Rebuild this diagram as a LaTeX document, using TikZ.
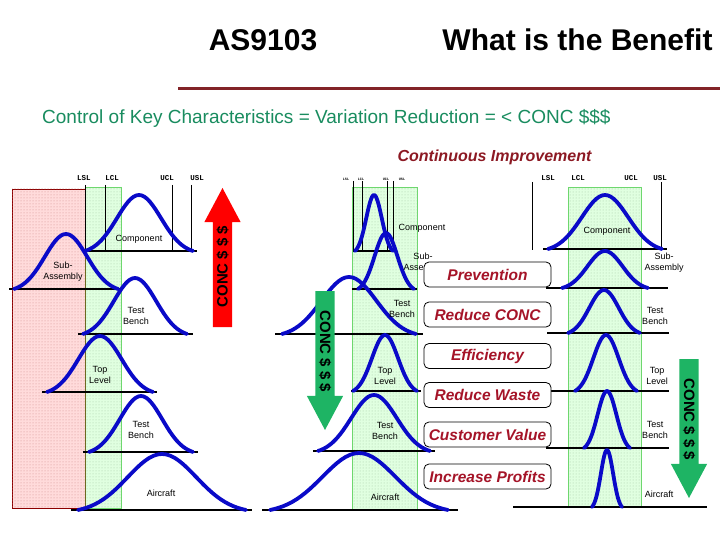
\documentclass[tikz,border=0pt]{standalone}
\usepackage{fontspec}
\setmainfont{Liberation Sans}
\newfontfamily\limfont{Liberation Mono}
\usetikzlibrary{shapes.arrows, patterns, positioning}
\definecolor{ruleRed}{RGB}{130,35,40}
\definecolor{ciRed}{RGB}{140,25,35}
\definecolor{subGreen}{RGB}{25,140,95}
\definecolor{benefitRed}{RGB}{165,20,40}
\definecolor{bandGreen}{RGB}{110,215,110}
\definecolor{arrowGreen}{RGB}{30,180,100}
\definecolor{bellBlue}{RGB}{10,10,200}

\newcommand{\bellcurve}[4]{\draw[bell] plot[domain=-1:1, samples=41] ({#1+#3*\x}, {#2-#4*(exp(-3*\x*\x)-0.0498)/0.9502});}

\begin{document}
\begin{tikzpicture}[
    x=1pt, y=-1pt,
    bell/.style={draw=bellBlue, line width=3.8pt, line join=round, line cap=round},
    baseln/.style={draw=black, line width=2.2pt},
    limit/.style={draw=black, line width=0.8pt},
    limlabel/.style={font=\limfont\bfseries\fontsize{7.5}{8}\selectfont, inner sep=0pt},
    tinylabel/.style={font=\limfont\bfseries\fontsize{3.5}{4}\selectfont, inner sep=0pt},
    level/.style={font=\fontsize{9}{11}\selectfont, align=center, inner sep=0pt},
    benefit/.style={draw=black, fill=white, rounded corners=5pt, line width=0.8pt, minimum width=127pt, minimum height=25pt, inner sep=0pt, text=benefitRed, font=\bfseries\itshape\fontsize{15.5}{18}\selectfont},
    greenband/.style={draw=bandGreen, line width=1pt, fill=green!12, postaction={pattern=dots, pattern color=green!40!black!35}},
    redband/.style={draw=red!55!black, line width=0.8pt, fill=red!14, postaction={pattern=dots, pattern color=red!60!black!45}},
    concarrow/.style={single arrow, single arrow head extend=8.5pt, single arrow tip angle=56, minimum height=139pt, inner xsep=2pt, inner ysep=3.5pt, text height=11pt, text depth=1pt, font=\bfseries\fontsize{15}{18}\selectfont, draw=none, outer sep=0pt}
]
    \useasboundingbox (0,0) rectangle (720,540);

    % heading
    \node[font=\bfseries\fontsize{30}{34}\selectfont] (standard) at (263,40) {AS9103};
    \node[font=\bfseries\fontsize{30}{34}\selectfont] (question) at (577.5,40) {What is the Benefit};
    \draw[ruleRed, line width=3pt] (178,89) -- (720,89);
    \node[anchor=west, inner sep=0pt, text=subGreen, font=\fontsize{19}{22}\selectfont] (goal) at (42,118) {Control of Key Characteristics = Variation Reduction = < CONC \$\$\$};
    \node[text=ciRed, font=\bfseries\itshape\fontsize{16}{19}\selectfont] (improve) at (494.5,157) {Continuous Improvement};

    % bands
    \draw[redband] (12,189) rectangle (85,508);
    \draw[greenband] (85,188) rectangle (121,508);
    \draw[olive!70!black, line width=1pt] (85,189) -- (85,508);
    \draw[greenband] (352,188) rectangle (417,510);
    \draw[greenband] (568,188) rectangle (641,506);

    % left: wide spread
    \foreach \lx in {85,105,172,191} \draw[limit] (\lx,185) -- (\lx,251);
    \node[limlabel] (lsl1) at (84,178) {LSL};
    \node[limlabel] (lcl1) at (112,178) {LCL};
    \node[limlabel] (ucl1) at (167,178) {UCL};
    \node[limlabel] (usl1) at (197,178) {USL};
    \draw[baseln] (85,251) -- (197,251);
    \draw[baseln] (9,289) -- (120,289);
    \draw[baseln] (78,334) -- (193,334);
    \draw[baseln] (42,392) -- (157,392);
    \draw[baseln] (83,452) -- (198,452);
    \draw[baseln] (71,510) -- (252,510);
    \bellcurve{139}{251}{54}{56}
    \bellcurve{66}{289}{52}{55}
    \bellcurve{135}{334}{52}{56}
    \bellcurve{100}{392}{53}{56}
    \bellcurve{141}{452}{52}{56}
    \bellcurve{162}{510}{84}{56}
    \node[level] (comp1) at (139,239) {Component};
    \node[level] (sub1) at (63,272) {Sub-\\Assembly};
    \node[level] (bench1) at (136,316) {Test\\Bench};
    \node[level] (top1) at (100,375) {Top\\Level};
    \node[level] (benchb1) at (141,430) {Test\\Bench};
    \node[level] (air1) at (161,493) {Aircraft};

    % middle: drifting spread
    \foreach \lx in {353,362,387,393} \draw[limit] (\lx,181) -- (\lx,251);
    \node[tinylabel] (lsl2) at (346,179) {LSL};
    \node[tinylabel] (lcl2) at (361,179) {LCL};
    \node[tinylabel] (ucl2) at (386,179) {UCL};
    \node[tinylabel] (usl2) at (402,179) {USL};
    \draw[baseln] (353,251) -- (395,251);
    \draw[baseln] (352,289) -- (417,289);
    \draw[baseln] (275,334) -- (423,334);
    \draw[baseln] (351,391) -- (421,391);
    \draw[baseln] (313,451) -- (435,451);
    \draw[baseln] (262,510) -- (458,510);
    \bellcurve{374}{251}{19}{56}
    \bellcurve{386}{289}{28}{56}
    \bellcurve{349}{334}{67}{57}
    \bellcurve{385}{391}{32}{56}
    \bellcurve{374}{451}{56}{56}
    \bellcurve{359}{510}{89}{57}
    \node[level] (comp2) at (422,228) {Component};
    \node[level] (sub2) at (423,263) {Sub-\\Assembly};
    \node[level] (bench2) at (402,309) {Test\\Bench};
    \node[level] (top2) at (385,376) {Top\\Level};
    \node[level] (benchb2) at (385,431) {Test\\Bench};
    \node[level] (air2) at (385,497) {Aircraft};

    % right: controlled spread
    \foreach \lx in {532,661} \draw[limit] (\lx,182) -- (\lx,250);
    \node[limlabel] (lsl3) at (548,178) {LSL};
    \node[limlabel] (lcl3) at (578,178) {LCL};
    \node[limlabel] (ucl3) at (631,178) {UCL};
    \node[limlabel] (usl3) at (660,178) {USL};
    \draw[baseln] (543,249) -- (667,249);
    \draw[baseln] (546,288) -- (668,288);
    \draw[baseln] (547,333) -- (669,333);
    \draw[baseln] (550,391) -- (669,391);
    \draw[baseln] (546,448) -- (669,448);
    \draw[baseln] (513,507) -- (707,507);
    \bellcurve{605}{249}{57}{54}
    \bellcurve{605}{288}{43}{37}
    \bellcurve{604}{333}{36}{43}
    \bellcurve{606}{391}{31}{56}
    \bellcurve{607}{448}{23}{57}
    \bellcurve{607}{507}{15}{57}
    \node[level] (comp3) at (607,231) {Component};
    \node[level] (sub3) at (664,263) {Sub-\\Assembly};
    \node[level] (bench3) at (655,316) {Test\\Bench};
    \node[level] (top3) at (657,376) {Top\\Level};
    \node[level] (benchb3) at (655,430) {Test\\Bench};
    \node[level] (air3) at (659,494) {Aircraft};

    % benefits
    \node[benefit] (prevention) at (487.5,274.5) {Prevention};
    \node[benefit] (reduceconc) at (487.5,314.5) {Reduce CONC};
    \node[benefit] (efficiency) at (487.5,356) {Efficiency};
    \node[benefit] (reducewaste) at (487.5,395) {Reduce Waste};
    \node[benefit] (value) at (487.5,434.5) {Customer Value};
    \node[benefit] (profits) at (487.5,476.5) {Increase Profits};

    % cost arrows
    \node[concarrow, fill=red, rotate=90, anchor=tip] (costup) at (222.5,188) {CONC \$ \$ \$};
    \node[concarrow, fill=arrowGreen, rotate=-90, anchor=tip] (costdown) at (325,430) {CONC \$ \$ \$};
    \node[concarrow, fill=arrowGreen, rotate=-90, anchor=tip] (costlow) at (689,498) {CONC \$ \$ \$};
\end{tikzpicture}
\end{document}
